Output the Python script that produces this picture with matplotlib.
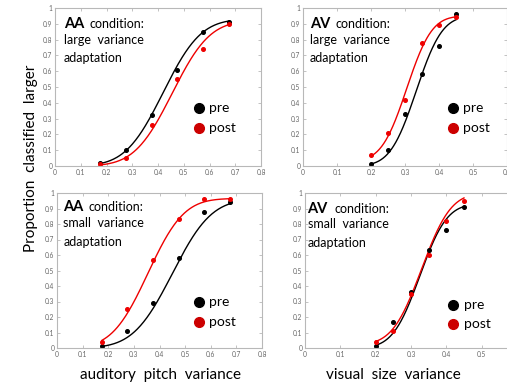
import math
import numpy as np
import matplotlib
matplotlib.use("Agg")
import matplotlib.pyplot as plt

plt.rcParams['font.family'] = ['Lato', 'DejaVu Sans']

# stimulus levels
aa_x = [0.175, 0.275, 0.375, 0.475, 0.575, 0.675]
av_x = [0.20, 0.25, 0.30, 0.35, 0.40, 0.45]

# proportion "larger" responses
aa_large_pre = [0.02, 0.10, 0.32, 0.61, 0.85, 0.91]
aa_large_post = [0.01, 0.05, 0.26, 0.55, 0.74, 0.90]
av_large_pre = [0.01, 0.10, 0.33, 0.58, 0.76, 0.96]
av_large_post = [0.07, 0.21, 0.42, 0.78, 0.89, 0.94]
aa_small_pre = [0.01, 0.11, 0.29, 0.58, 0.88, 0.94]
aa_small_post = [0.04, 0.25, 0.57, 0.83, 0.96, 0.96]
av_small_pre = [0.01, 0.17, 0.36, 0.63, 0.76, 0.91]
av_small_post = [0.04, 0.11, 0.35, 0.60, 0.82, 0.95]

# fitted psychometric functions: (mu, sigma, guess, upper)
aa_large_fit = [(0.42, 0.115, 0.0, 0.93), (0.455, 0.115, 0.0, 0.92)]
av_large_fit = [(0.333, 0.06, 0.0, 0.95), (0.305, 0.058, 0.03, 0.95)]
aa_small_fit = [(0.45, 0.12, 0.0, 0.96), (0.355, 0.11, 0.0, 0.965)]
av_small_fit = [(0.325, 0.06, 0.0, 0.93), (0.33, 0.065, 0.02, 1.0)]

erf = np.vectorize(math.erf)


def psy(x, mu, sigma, g, u):
    return g + (u - g) * 0.5 * (1 + erf((x - mu) / (sigma * np.sqrt(2))))


RED = '#ee0000'
GRID = '#b8b8b8'

fig = plt.figure(figsize=(5.07, 3.84), dpi=100)
W, H = 507.0, 384.0


def make_ax(left, right, top, bottom):
    return fig.add_axes([left / W, 1 - bottom / H, (right - left) / W, (bottom - top) / H])


panels = [
    dict(box=(55, 261, 8, 166), xmax=0.8, x=aa_x, pre=aa_large_pre, post=aa_large_post,
         fit=aa_large_fit, tag='AA', line2='large  variance',
         tx=0.044, ty=[0.899, 0.797, 0.684], lx=0.70, ly=[0.367, 0.24]),
    dict(box=(303, 507, 8, 166), xmax=0.6, x=av_x, pre=av_large_pre, post=av_large_post,
         fit=av_large_fit, tag='AV', line2='large  variance',
         tx=0.034, ty=[0.899, 0.797, 0.684], lx=0.735, ly=[0.367, 0.24]),
    dict(box=(57, 262, 193, 348), xmax=0.8, x=aa_x, pre=aa_small_pre, post=aa_small_post,
         fit=aa_small_fit, tag='AA', line2='small  variance',
         tx=0.03, ty=[0.91, 0.806, 0.684], lx=0.693, ly=[0.297, 0.168]),
    dict(box=(305, 517, 193, 348), xmax=0.6, x=av_x, pre=av_small_pre, post=av_small_post,
         fit=av_small_fit, tag='AV', line2='small  variance',
         tx=0.012, ty=[0.897, 0.80, 0.677], lx=0.70, ly=[0.277, 0.155]),
]

for i, p in enumerate(panels):
    l, r, t, b = p['box']
    ax = make_ax(l, r, t, b)
    xs = np.linspace(min(p['x']), max(p['x']), 200)
    ax.plot(xs, psy(xs, *p['fit'][0]), color='black', lw=1.0)
    ax.plot(xs, psy(xs, *p['fit'][1]), color=RED, lw=1.0)
    ax.plot(p['x'], p['pre'], 'o', color='black', ms=2.6)
    ax.plot(p['x'], p['post'], 'o', color=RED, ms=2.6)

    ax.set_xlim(0, p['xmax'])
    ax.set_ylim(0, 1)
    xt = np.round(np.arange(0, p['xmax'] + 0.001, 0.1), 1)
    ax.set_xticks(xt)
    xlabels = ['0' if v == 0 else f'{v:g}' for v in xt]
    if i == 3:
        xlabels[-1] = ''  # falls outside the figure
    ax.set_xticklabels(xlabels)
    ax.set_yticks(np.round(np.arange(0, 1.001, 0.1), 1))
    ax.set_yticklabels(['0' if v == 0 else f'{v:g}' for v in ax.get_yticks()])
    ax.tick_params(direction='in', length=2, width=0.6, color=GRID, labelsize=4.8,
                   labelcolor='#666666', top=True, right=True, pad=2)
    for s in ax.spines.values():
        s.set_color(GRID)
        s.set_linewidth(0.8)

    # condition text
    ax.text(p['tx'], p['ty'][0], p['tag'], transform=ax.transAxes, fontsize=10.5,
            fontweight='bold', va='center', ha='left')
    ax.text(p['tx'] + 0.125, p['ty'][0], 'condition:', transform=ax.transAxes,
            fontsize=9, va='center', ha='left')
    ax.text(p['tx'], p['ty'][1], p['line2'], transform=ax.transAxes, fontsize=9,
            va='center', ha='left')
    ax.text(p['tx'], p['ty'][2], 'adaptation', transform=ax.transAxes, fontsize=9,
            va='center', ha='left')

    # pre / post key
    ax.plot([p['lx']], [p['ly'][0]], 'o', color='black', ms=7, transform=ax.transAxes,
            clip_on=False)
    ax.plot([p['lx']], [p['ly'][1]], 'o', color='#cc0000', ms=7, transform=ax.transAxes,
            clip_on=False)
    ax.text(p['lx'] + 0.05, p['ly'][0], 'pre', transform=ax.transAxes, fontsize=10,
            va='center', ha='left')
    ax.text(p['lx'] + 0.05, p['ly'][1], 'post', transform=ax.transAxes, fontsize=10,
            va='center', ha='left')

fig.text(31 / W, 1 - 158 / H, 'Proportion  classified  larger', rotation=90,
         fontsize=11, ha='center', va='center')
fig.text(160 / W, 1 - 375 / H, 'auditory  pitch  variance', fontsize=11,
         ha='center', va='center')
fig.text(393 / W, 1 - 375 / H, 'visual  size  variance', fontsize=11,
         ha='center', va='center')

fig.savefig('out.png', dpi=100)
